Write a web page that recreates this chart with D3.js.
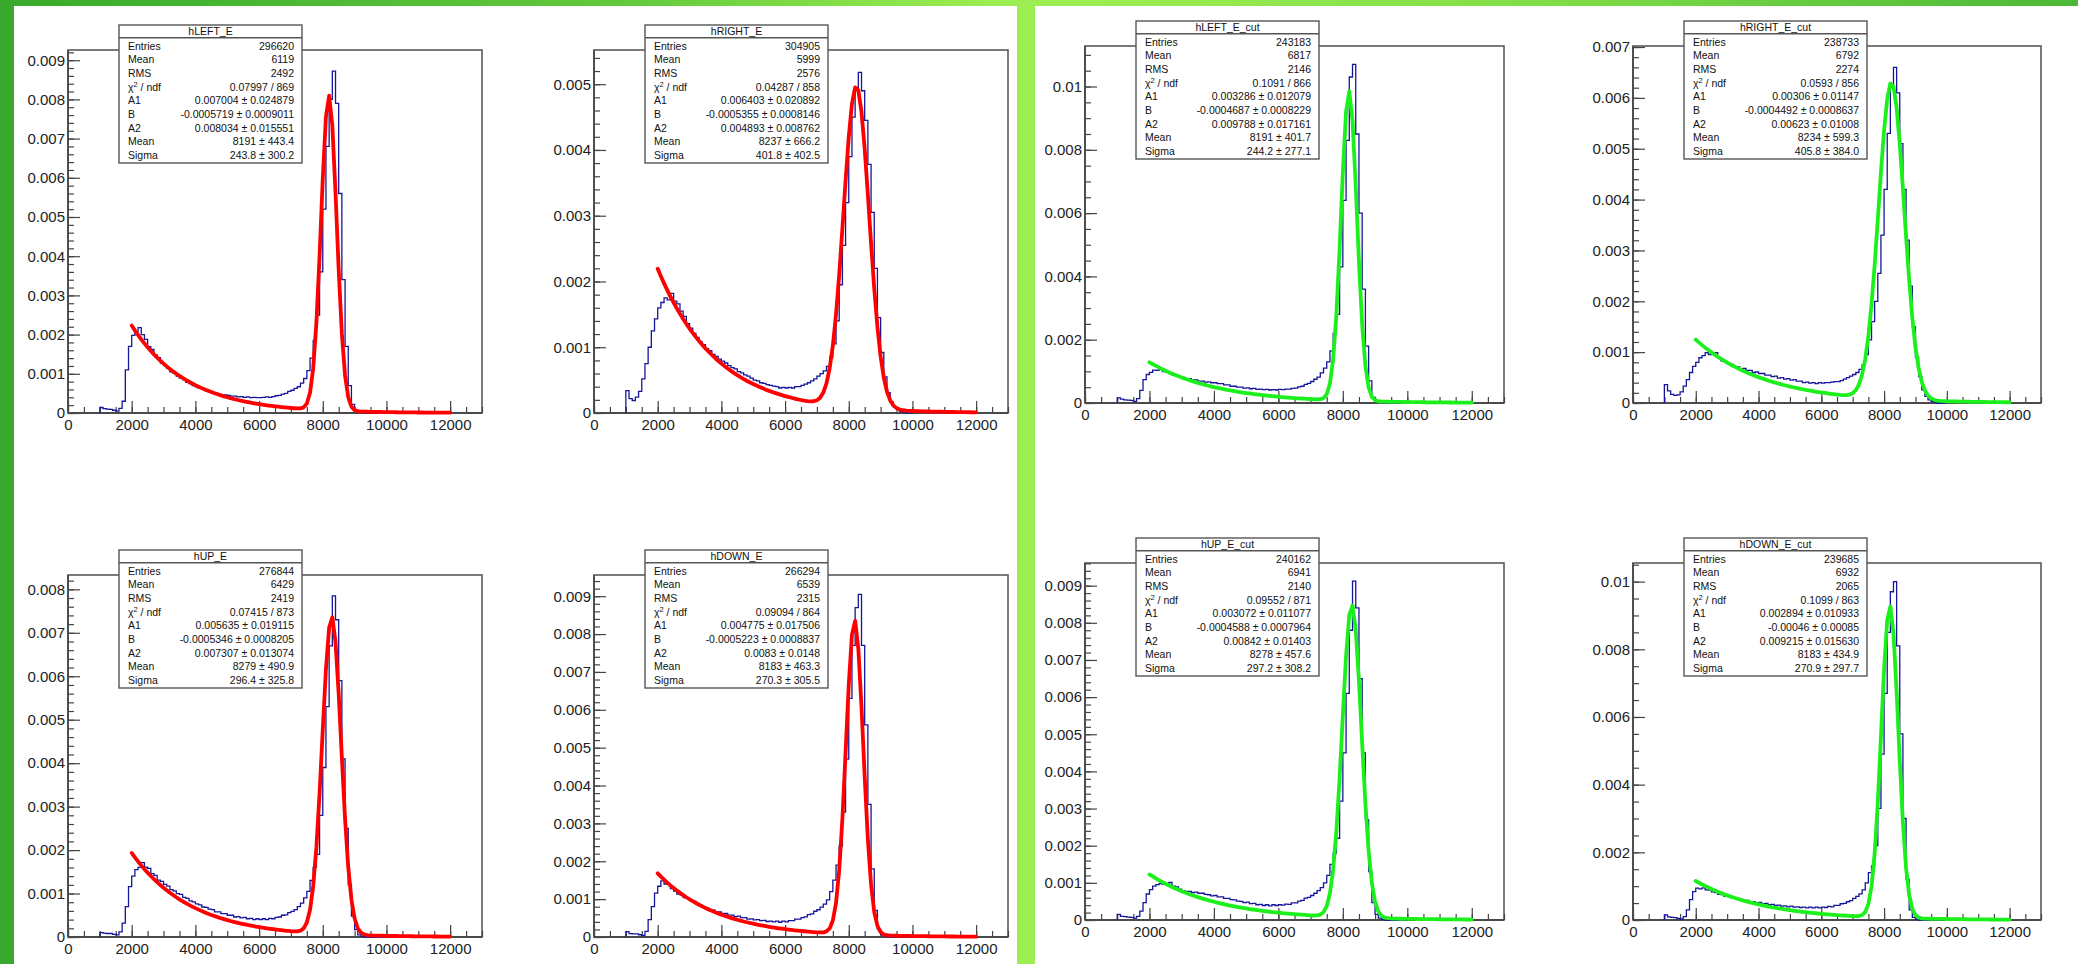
<!DOCTYPE html>
<html>
<head>
<meta charset="utf-8">
<script src="https://cdn.jsdelivr.net/npm/d3@7"></script>
<style>
  html, body { margin: 0; padding: 0; background: #fff; }
  svg { display: block; }
</style>
</head>
<body>
<svg id="canvas" width="2078" height="964"></svg>
<script>
// ---------------------------------------------------------------------------
// Energy spectra per detector side, with exponential + gaussian fits.
// Histogram bin contents are given in units of 1e-5 (normalised counts),
// bins are 100 wide starting at E = 1000.
// ---------------------------------------------------------------------------
const histNames = ["hLEFT_E", "hRIGHT_E", "hLEFT_E_cut", "hRIGHT_E_cut",
                   "hUP_E", "hDOWN_E", "hUP_E_cut", "hDOWN_E_cut"];
const binStart = 1000;
const binWidth = 100;

const hLEFT_E = [
  14, 11, 10, 9, 7, 5, 12, 30, 110, 170,
  198, 207, 218, 200, 188, 169, 162, 148, 141, 127,
  121, 114, 105, 101, 94, 89, 85, 78, 75, 70,
  67, 63, 61, 57, 56, 52, 51, 48, 47, 46,
  45, 43, 43, 41, 42, 40, 41, 39, 40, 39,
  39, 40, 41, 40, 42, 44, 45, 48, 50, 55,
  58, 63, 67, 76, 88, 108, 140, 185, 250, 360,
  520, 680, 800, 872, 790, 560, 340, 170, 70, 22,
  6, 2, 1, 0, 0, 0, 0, 0, 0, 0
];
const hRIGHT_E = [
  34, 22, 19, 24, 33, 52, 75, 100, 125, 143,
  160, 168, 175, 172, 182, 170, 166, 155, 147, 136,
  129, 121, 115, 108, 104, 98, 95, 89, 86, 82,
  79, 76, 72, 69, 67, 63, 61, 58, 56, 53,
  50, 49, 46, 45, 43, 42, 41, 40, 38, 39,
  38, 39, 38, 40, 40, 42, 44, 46, 49, 52,
  56, 60, 64, 71, 85, 105, 140, 195, 255, 320,
  390, 450, 495, 518, 490, 445, 378, 305, 220, 145,
  92, 55, 31, 17, 9, 5, 2, 1, 0, 0
];
const hLEFT_E_cut = [
  16, 12, 10, 9, 8, 5, 14, 40, 74, 90,
  97, 104, 103, 106, 99, 97, 93, 88, 87, 82,
  81, 77, 77, 73, 73, 69, 69, 66, 67, 64,
  64, 61, 61, 57, 57, 53, 53, 50, 50, 47,
  48, 45, 46, 43, 44, 42, 43, 41, 42, 41,
  43, 42, 44, 44, 46, 47, 51, 53, 59, 62,
  68, 75, 82, 95, 110, 130, 165, 220, 280, 430,
  640, 830, 1030, 1070, 850, 600, 360, 180, 70, 18,
  5, 2, 1, 0, 0, 0, 0, 0, 0, 0
];
const hRIGHT_E_cut = [
  36, 24, 17, 15, 16, 22, 33, 46, 60, 72,
  80, 89, 93, 99, 95, 96, 99, 89, 83, 81,
  78, 76, 71, 71, 67, 68, 64, 64, 60, 61,
  58, 58, 55, 55, 52, 53, 49, 50, 47, 48,
  45, 46, 43, 43, 40, 41, 39, 40, 38, 40,
  39, 40, 40, 41, 42, 42, 44, 47, 50, 53,
  56, 60, 66, 75, 95, 124, 160, 200, 255, 330,
  420, 530, 620, 660, 610, 510, 420, 320, 230, 150,
  90, 52, 26, 13, 6, 3, 1, 0, 0, 0
];
const hUP_E = [
  10, 9, 8, 8, 6, 5, 12, 32, 70, 116,
  140, 155, 160, 171, 161, 158, 146, 142, 131, 128,
  121, 117, 109, 106, 100, 98, 91, 89, 83, 81,
  76, 74, 69, 68, 64, 63, 58, 58, 54, 54,
  50, 50, 46, 47, 44, 45, 42, 43, 40, 42,
  40, 42, 40, 43, 42, 45, 46, 50, 51, 56,
  59, 63, 70, 78, 90, 105, 130, 160, 190, 280,
  390, 530, 670, 785, 730, 590, 410, 250, 120, 48,
  17, 5, 2, 0, 0, 0, 0, 0, 0, 0
];
const hDOWN_E = [
  14, 9, 8, 8, 6, 4, 15, 46, 80, 116,
  134, 148, 140, 139, 128, 121, 113, 111, 104, 102,
  97, 94, 87, 85, 79, 77, 72, 71, 66, 66,
  62, 62, 58, 58, 54, 55, 51, 51, 47, 48,
  45, 46, 43, 44, 41, 42, 40, 42, 39, 42,
  40, 43, 43, 47, 47, 51, 53, 59, 61, 68,
  72, 79, 87, 98, 120, 150, 190, 240, 330, 470,
  630, 770, 870, 905, 770, 560, 350, 180, 70, 20,
  6, 2, 0, 0, 0, 0, 0, 0, 0, 0
];
const hUP_E_cut = [
  15, 10, 9, 8, 7, 5, 10, 24, 47, 70,
  82, 91, 95, 98, 96, 97, 101, 91, 89, 83,
  79, 77, 77, 74, 75, 72, 72, 69, 68, 65,
  66, 62, 62, 58, 58, 55, 54, 51, 50, 47,
  48, 44, 45, 41, 42, 39, 41, 38, 41, 39,
  41, 40, 43, 42, 46, 46, 51, 53, 59, 61,
  66, 72, 79, 87, 100, 120, 150, 180, 220, 320,
  450, 610, 780, 912, 840, 650, 450, 270, 130, 47,
  15, 5, 2, 0, 0, 0, 0, 0, 0, 0
];
const hDOWN_E_cut = [
  15, 9, 8, 7, 5, 3, 10, 30, 60, 84,
  94, 92, 95, 89, 88, 83, 81, 76, 75, 70,
  70, 66, 65, 61, 61, 58, 58, 54, 54, 51,
  52, 48, 49, 45, 46, 43, 44, 41, 42, 39,
  41, 38, 39, 37, 38, 36, 38, 36, 38, 36,
  38, 37, 40, 39, 43, 43, 48, 49, 54, 57,
  64, 70, 77, 89, 110, 140, 160, 220, 330, 490,
  670, 850, 970, 1000, 810, 550, 300, 120, 30, 8,
  2, 0, 0, 0, 0, 0, 0, 0, 0, 0
];
const histContents = [hLEFT_E, hRIGHT_E, hLEFT_E_cut, hRIGHT_E_cut,
                      hUP_E, hDOWN_E, hUP_E_cut, hDOWN_E_cut];

// Axis ranges and tick layout
const xTicks = [0, 2000, 4000, 6000, 8000, 10000, 12000];
const xAxisMax = 13000;
const xMinorStep = 500;
const yAxisMax = [0.00926, 0.00552, 0.01128, 0.00702, 0.00833, 0.00956, 0.00961, 0.01055];
const yMajorStep = [0.001, 0.001, 0.002, 0.001, 0.001, 0.001, 0.001, 0.002];
const yMinorDivs = [5, 5, 4, 5, 5, 5, 5, 4];

// Statistics box contents
const statEntries = ["296620", "304905", "243183", "238733", "276844", "266294", "240162", "239685"];
const statMean    = ["6119", "5999", "6817", "6792", "6429", "6539", "6941", "6932"];
const statRMS     = ["2492", "2576", "2146", "2274", "2419", "2315", "2140", "2065"];
const statChi2    = ["0.07997 / 869", "0.04287 / 858", "0.1091 / 866", "0.0593 / 856",
                     "0.07415 / 873", "0.09094 / 864", "0.09552 / 871", "0.1099 / 863"];
const fitA1    = ["0.007004 ± 0.024879", "0.006403 ± 0.020892", "0.003286 ± 0.012079", "0.00306 ± 0.01147",
                  "0.005635 ± 0.019115", "0.004775 ± 0.017506", "0.003072 ± 0.011077", "0.002894 ± 0.010933"];
const fitB     = ["-0.0005719 ± 0.0009011", "-0.0005355 ± 0.0008146", "-0.0004687 ± 0.0008229", "-0.0004492 ± 0.0008637",
                  "-0.0005346 ± 0.0008205", "-0.0005223 ± 0.0008837", "-0.0004588 ± 0.0007964", "-0.00046 ± 0.00085"];
const fitA2    = ["0.008034 ± 0.015551", "0.004893 ± 0.008762", "0.009788 ± 0.017161", "0.00623 ± 0.01008",
                  "0.007307 ± 0.013074", "0.0083 ± 0.0148", "0.00842 ± 0.01403", "0.009215 ± 0.015630"];
const fitMean  = ["8191 ± 443.4", "8237 ± 666.2", "8191 ± 401.7", "8234 ± 599.3",
                  "8279 ± 490.9", "8183 ± 463.3", "8278 ± 457.6", "8183 ± 434.9"];
const fitSigma = ["243.8 ± 300.2", "401.8 ± 402.5", "244.2 ± 277.1", "405.8 ± 384.0",
                  "296.4 ± 325.8", "270.3 ± 305.5", "297.2 ± 308.2", "270.9 ± 297.7"];
const fitRange = [2000, 12000];
const fitPoints = 100;
const fitColors = ["#ff0000", "#ff0000", "#1cf01c", "#1cf01c",
                   "#ff0000", "#ff0000", "#1cf01c", "#1cf01c"];

// ---------------------------------------------------------------------------
// Page layout
// ---------------------------------------------------------------------------
const W = 2078, H = 964;
const FONT = "'Liberation Sans', Arial, Helvetica, sans-serif";
const frames = [
  { x: 68,   y: 50,  w: 414, h: 363 },
  { x: 594,  y: 50,  w: 414, h: 363 },
  { x: 1085, y: 46,  w: 419, h: 357 },
  { x: 1633, y: 46,  w: 408, h: 357 },
  { x: 68,   y: 575, w: 414, h: 362 },
  { x: 594,  y: 575, w: 414, h: 362 },
  { x: 1085, y: 563, w: 419, h: 357 },
  { x: 1633, y: 563, w: 408, h: 357 }
];

const svg = d3.select("#canvas");
const defs = svg.append("defs");
const grad = defs.append("linearGradient").attr("id", "bgGrad")
  .attr("x1", "0%").attr("x2", "100%").attr("y1", "0%").attr("y2", "0%");
[["0%", "#38a92c"], ["30%", "#62c93c"], ["48%", "#9cee50"], ["52%", "#9cee50"],
 ["75%", "#7fdc47"], ["100%", "#4bb837"]].forEach(([o, c]) =>
  grad.append("stop").attr("offset", o).attr("stop-color", c));

svg.append("rect").attr("width", W).attr("height", H).attr("fill", "url(#bgGrad)");
// two white canvases
svg.append("rect").attr("x", 14).attr("y", 6).attr("width", 1003).attr("height", H - 6).attr("fill", "#fff");
svg.append("rect").attr("x", 1035).attr("y", 6).attr("width", W - 1035).attr("height", H - 6).attr("fill", "#fff");

const yFmt = v => (Math.abs(v) < 1e-12 ? "0" : String(+v.toPrecision(6)));
const parseVal = s => parseFloat(s.split("±")[0]);

histNames.forEach((name, i) => {
  const f = frames[i];
  const g = svg.append("g").attr("transform", `translate(${f.x},${f.y})`);
  const x = d3.scaleLinear().domain([0, xAxisMax]).range([0, f.w]);
  const y = d3.scaleLinear().domain([0, yAxisMax[i]]).range([f.h, 0]);

  // frame
  g.append("rect").attr("width", f.w).attr("height", f.h)
    .attr("fill", "none").attr("stroke", "#5a5a5a").attr("stroke-width", 1.6);

  // axes: ticks point into the frame
  const yMajor = d3.range(0, yAxisMax[i] + 1e-9, yMajorStep[i]);
  const yMinor = d3.range(0, yAxisMax[i] + 1e-9, yMajorStep[i] / yMinorDivs[i]);
  const xMinor = d3.range(0, xAxisMax + 1, xMinorStep);

  const styleAxis = a => {
    a.select(".domain").remove();
    a.attr("color", "#444");
    a.selectAll("line").attr("stroke-width", 1.2);
    a.selectAll("text").attr("font-family", FONT).attr("font-size", 15).attr("fill", "#222");
  };

  g.append("g").call(d3.axisLeft(y).tickValues(yMinor).tickSize(-6).tickFormat(() => "")).call(styleAxis);
  g.append("g").call(d3.axisLeft(y).tickValues(yMajor).tickSize(-12).tickPadding(3).tickFormat(yFmt)).call(styleAxis);
  g.append("g").attr("transform", `translate(0,${f.h})`)
    .call(d3.axisBottom(x).tickValues(xMinor).tickSize(-6).tickFormat(() => "")).call(styleAxis);
  g.append("g").attr("transform", `translate(0,${f.h})`)
    .call(d3.axisBottom(x).tickValues(xTicks).tickSize(-12).tickPadding(6).tickFormat(d3.format("d"))).call(styleAxis);

  // axis lines
  g.append("line").attr("x1", 0).attr("x2", 0).attr("y1", 0).attr("y2", f.h)
    .attr("stroke", "#4a4a4a").attr("stroke-width", 1.8);
  g.append("line").attr("x1", 0).attr("x2", f.w).attr("y1", f.h).attr("y2", f.h)
    .attr("stroke", "#4a4a4a").attr("stroke-width", 1.8);

  // histogram (step outline), ending at the last filled bin edge
  const contents = histContents[i];
  const pts = [[binStart, 0]];
  contents.forEach((c, k) => pts.push([binStart + k * binWidth, c * 1e-5]));
  const lastEdge = binStart + contents.length * binWidth;
  pts.push([lastEdge, 0]);
  const stepLine = d3.line().x(d => x(d[0])).y(d => y(d[1])).curve(d3.curveStepAfter);
  g.append("path").attr("d", stepLine(pts))
    .attr("fill", "none").attr("stroke", "#16169a").attr("stroke-width", 1.3)
    .attr("stroke-linejoin", "miter");

  // fit function: A1*exp(B*x) + A2*gaus(x; Mean, Sigma)
  const A1 = parseVal(fitA1[i]), B = parseVal(fitB[i]), A2 = parseVal(fitA2[i]);
  const M = parseVal(fitMean[i]), S = parseVal(fitSigma[i]);
  const fitFn = e => A1 * Math.exp(B * e) + A2 * Math.exp(-0.5 * ((e - M) / S) ** 2);
  const fitPts = d3.range(0, fitPoints + 1).map(k => {
    const e = fitRange[0] + k * (fitRange[1] - fitRange[0]) / fitPoints;
    return [e, fitFn(e)];
  });
  const fitLine = d3.line().x(d => x(d[0])).y(d => y(d[1]));
  g.append("path").attr("d", fitLine(fitPts))
    .attr("fill", "none").attr("stroke", fitColors[i]).attr("stroke-width", 3.8)
    .attr("stroke-linejoin", "round").attr("stroke-linecap", "round");

  // statistics box
  const bx = 51, by = -25, bw = 183, bh = 138, titleH = 12.7;
  const box = g.append("g").attr("transform", `translate(${bx},${by})`);
  box.append("rect").attr("width", bw).attr("height", bh)
    .attr("fill", "#fff").attr("stroke", "#555").attr("stroke-width", 1.4);
  box.append("line").attr("x1", 0).attr("x2", bw).attr("y1", titleH).attr("y2", titleH)
    .attr("stroke", "#555").attr("stroke-width", 1.4);
  box.append("text").attr("x", bw / 2).attr("y", titleH - 2.6)
    .attr("text-anchor", "middle").attr("font-family", FONT).attr("font-size", 10.5)
    .attr("fill", "#111").text(name);

  const rows = [
    ["Entries", statEntries[i]],
    ["Mean", statMean[i]],
    ["RMS", statRMS[i]],
    ["CHI", statChi2[i]],
    ["A1", fitA1[i]],
    ["B", fitB[i]],
    ["A2", fitA2[i]],
    ["Mean", fitMean[i]],
    ["Sigma", fitSigma[i]]
  ];
  rows.forEach((r, k) => {
    const base = 21 + 13.66 * k + 3.8;
    const lab = box.append("text").attr("x", 9).attr("y", base)
      .attr("font-family", FONT).attr("font-size", 10.5).attr("fill", "#111");
    if (r[0] === "CHI") {
      lab.append("tspan").text("χ");
      lab.append("tspan").attr("dy", -4).attr("font-size", 7.5).text("2");
      lab.append("tspan").attr("dy", 4).text(" / ndf");
    } else {
      lab.text(r[0]);
    }
    box.append("text").attr("x", bw - 8).attr("y", base)
      .attr("text-anchor", "end").attr("font-family", FONT).attr("font-size", 10.5)
      .attr("fill", "#111").text(r[1]);
  });
});
</script>
</body>
</html>
